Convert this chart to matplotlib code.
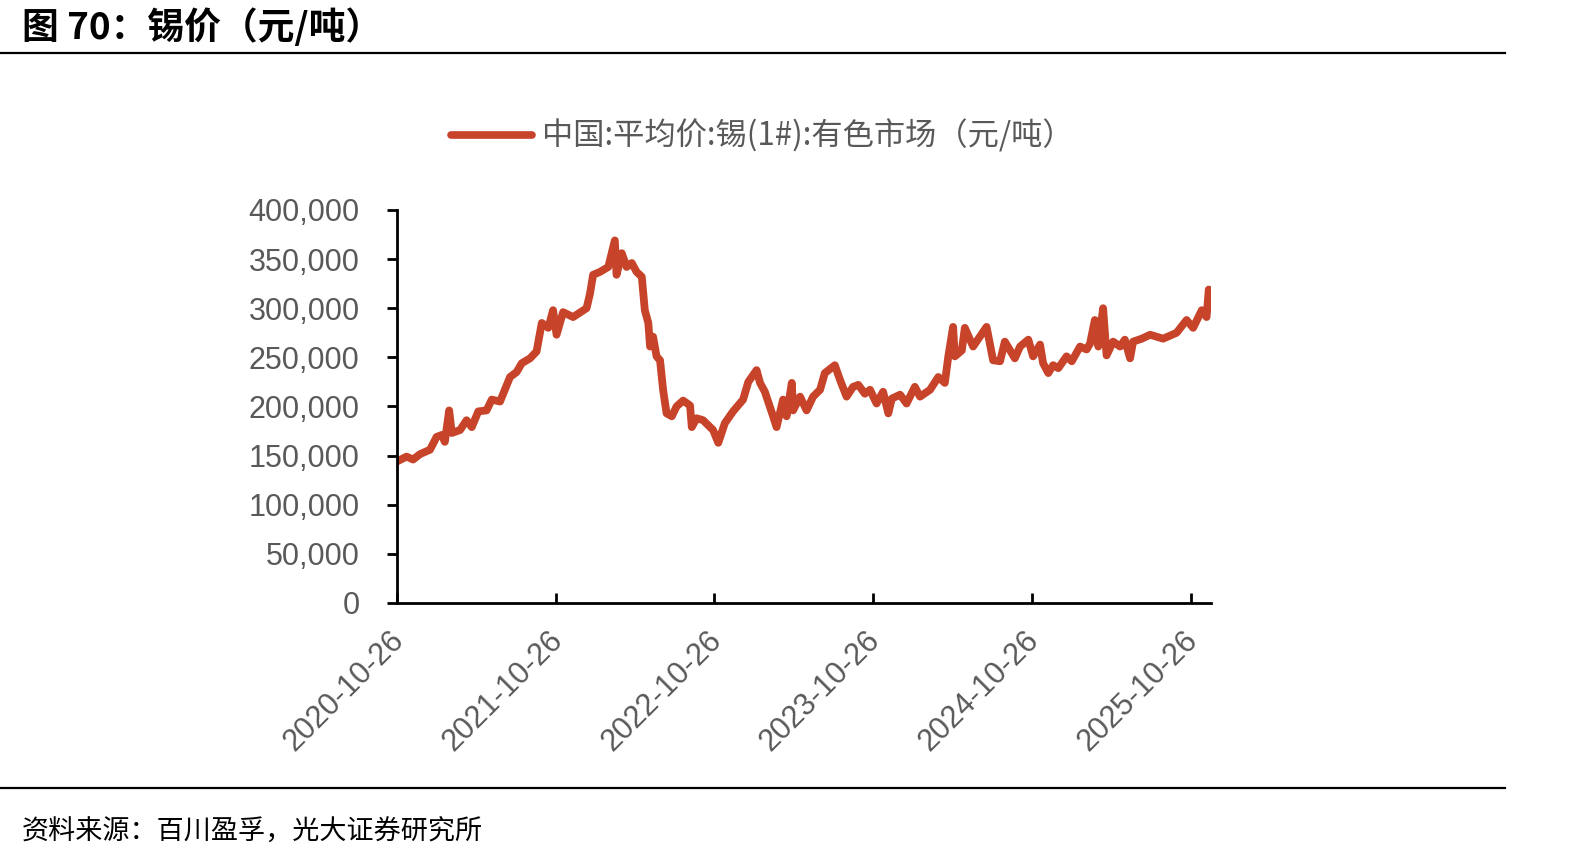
import matplotlib
matplotlib.use("Agg")
import matplotlib.pyplot as plt
import matplotlib.dates as mdates
from matplotlib.lines import Line2D
from matplotlib.transforms import ScaledTranslation
import pandas as pd

plt.rcParams['font.family'] = ['Liberation Sans', 'Noto Sans CJK SC', 'DejaVu Sans']

# tin price (yuan/ton)
dates = [
    "2020-10-26", "2020-11-17", "2020-12-02", "2020-12-18", "2021-01-10", "2021-01-25",
    "2021-02-06", "2021-02-13", "2021-02-23", "2021-03-01", "2021-03-20", "2021-04-04",
    "2021-04-16", "2021-05-01", "2021-05-20", "2021-06-01", "2021-06-20", "2021-07-13",
    "2021-07-28", "2021-08-09", "2021-08-28", "2021-09-12", "2021-09-24", "2021-10-09",
    "2021-10-20", "2021-10-28", "2021-11-12", "2021-12-05", "2022-01-05", "2022-01-13",
    "2022-01-20", "2022-02-05", "2022-02-24", "2022-03-11", "2022-03-15", "2022-03-27",
    "2022-04-07", "2022-04-19", "2022-04-30", "2022-05-12", "2022-05-19", "2022-05-27",
    "2022-05-31", "2022-06-07", "2022-06-15", "2022-06-23", "2022-06-30", "2022-07-08",
    "2022-07-20", "2022-07-31", "2022-08-15", "2022-08-31", "2022-09-04", "2022-09-15",
    "2022-09-30", "2022-10-23", "2022-11-04", "2022-11-19", "2022-12-08", "2022-12-31",
    "2023-01-12", "2023-01-31", "2023-02-08", "2023-02-19", "2023-03-10", "2023-03-18",
    "2023-04-02", "2023-04-10", "2023-04-22", "2023-04-25", "2023-05-11", "2023-05-26",
    "2023-06-10", "2023-06-26", "2023-07-07", "2023-07-30", "2023-08-11", "2023-08-26",
    "2023-09-10", "2023-09-22", "2023-10-07", "2023-10-19", "2023-11-03", "2023-11-18",
    "2023-11-30", "2023-12-08", "2023-12-27", "2024-01-11", "2024-01-30", "2024-02-11",
    "2024-03-05", "2024-03-24", "2024-04-08", "2024-04-16", "2024-04-27", "2024-05-01",
    "2024-05-17", "2024-05-24", "2024-06-12", "2024-07-02", "2024-07-13", "2024-07-28",
    "2024-08-13", "2024-08-24", "2024-09-16", "2024-09-28", "2024-10-17", "2024-10-28",
    "2024-11-13", "2024-11-20", "2024-12-02", "2024-12-13", "2024-12-25", "2025-01-13",
    "2025-01-25", "2025-02-13", "2025-02-28", "2025-03-08", "2025-03-19", "2025-03-27",
    "2025-04-07", "2025-04-15", "2025-04-30", "2025-05-16", "2025-05-27", "2025-06-08",
    "2025-06-15", "2025-07-05", "2025-07-24", "2025-08-23", "2025-09-23", "2025-10-16",
    "2025-10-31", "2025-11-20", "2025-12-01", "2025-12-06", "2025-12-11",
]
prices = [
    144000, 149000, 146000, 151500, 156000, 169000,
    171000, 164000, 196000, 173000, 176000, 186000,
    179000, 195000, 196000, 207000, 205000, 230000,
    235000, 244000, 249000, 256000, 285000, 280000,
    298000, 273000, 296000, 291000, 300000, 315000,
    334000, 337000, 342000, 369000, 334000, 356000,
    342000, 346000, 337000, 332000, 298000, 285000,
    261000, 271000, 251000, 247000, 217000, 193000,
    190000, 200000, 206000, 201000, 179000, 188000,
    186000, 176000, 163000, 183000, 195000, 207000,
    225000, 237000, 224000, 215000, 190000, 179000,
    207000, 190000, 224000, 196000, 210000, 196000,
    210000, 217000, 234000, 242000, 227000, 210000,
    220000, 222000, 213000, 217000, 203000, 215000,
    193000, 208000, 212000, 203000, 220000, 210000,
    217000, 230000, 224000, 251000, 281000, 251000,
    257000, 280000, 261000, 274000, 281000, 247000,
    246000, 266000, 249000, 261000, 268000, 251000,
    263000, 244000, 234000, 242000, 239000, 251000,
    246000, 261000, 258000, 264000, 288000, 261000,
    300000, 252000, 266000, 261000, 268000, 249000,
    266000, 269000, 273000, 269000, 275000, 288000,
    280000, 298000, 291000, 319000, 314000,
]
tick_dates = ["2020-10-26", "2021-10-26", "2022-10-26", "2023-10-26", "2024-10-26", "2025-10-26"]

x = pd.to_datetime(dates)
red = "#C7432A"
grey = "#595959"

fig = plt.figure(figsize=(15.71, 8.63), dpi=100)
ax = fig.add_axes([0.2527, 0.3013, 0.5181, 0.4554])

ax.plot(x, prices, color=red, lw=5.6, solid_capstyle="round", solid_joinstyle="round",
        label="中国:平均价:锡(1#):有色市场（元/吨）")

ax.set_xlim(pd.Timestamp("2020-10-26"), pd.Timestamp("2025-12-11"))
ax.set_ylim(0, 400000)
ax.set_yticks(range(0, 400001, 50000))
ax.yaxis.set_major_formatter(matplotlib.ticker.FuncFormatter(lambda v, p: f"{int(v):,}"))
ax.set_xticks(pd.to_datetime(tick_dates))
ax.xaxis.set_major_formatter(mdates.DateFormatter("%Y-%m-%d"))

for s in ["top", "right"]:
    ax.spines[s].set_visible(False)
for s in ["left", "bottom"]:
    ax.spines[s].set_linewidth(2)
    ax.spines[s].set_color("black")

ax.tick_params(axis="y", direction="out", length=7, width=2, pad=20, labelsize=22, labelcolor=grey)
ax.tick_params(axis="x", direction="in", length=7, width=2, pad=16, labelsize=22, labelcolor=grey)
shift = ScaledTranslation(-8 / 100, 0, fig.dpi_scale_trans)
for lab in ax.get_xticklabels():
    lab.set_rotation(45)
    lab.set_ha("right")
    lab.set_rotation_mode("anchor")
    lab.set_transform(lab.get_transform() + shift)

leg = fig.legend(loc="center", bbox_to_anchor=(0.4852, 0.8424), frameon=False,
                 handlelength=2.6, handletextpad=0.3,
                 prop={"family": ["Noto Sans CJK SC", "DejaVu Sans"], "size": 22.5})
for t in leg.get_texts():
    t.set_color(grey)
for h in leg.get_lines():
    h.set_linewidth(5.5)

fig.text(0.014, 0.968, "图 70：锡价（元/吨）", fontsize=26.5, fontweight="bold",
         family=["Noto Sans CJK SC", "DejaVu Sans"], va="center", ha="left")
fig.add_artist(Line2D([0, 0.958], [0.9386, 0.9386], color="black", lw=1.6,
                      transform=fig.transFigure))
fig.add_artist(Line2D([0, 0.958], [0.0869, 0.0869], color="black", lw=1.6,
                      transform=fig.transFigure))
fig.text(0.014, 0.036, "资料来源：百川盈孚，光大证券研究所", fontsize=19.5,
         family=["Noto Sans CJK SC", "DejaVu Sans"], va="center", ha="left")

plt.savefig("out.png", dpi=100)
